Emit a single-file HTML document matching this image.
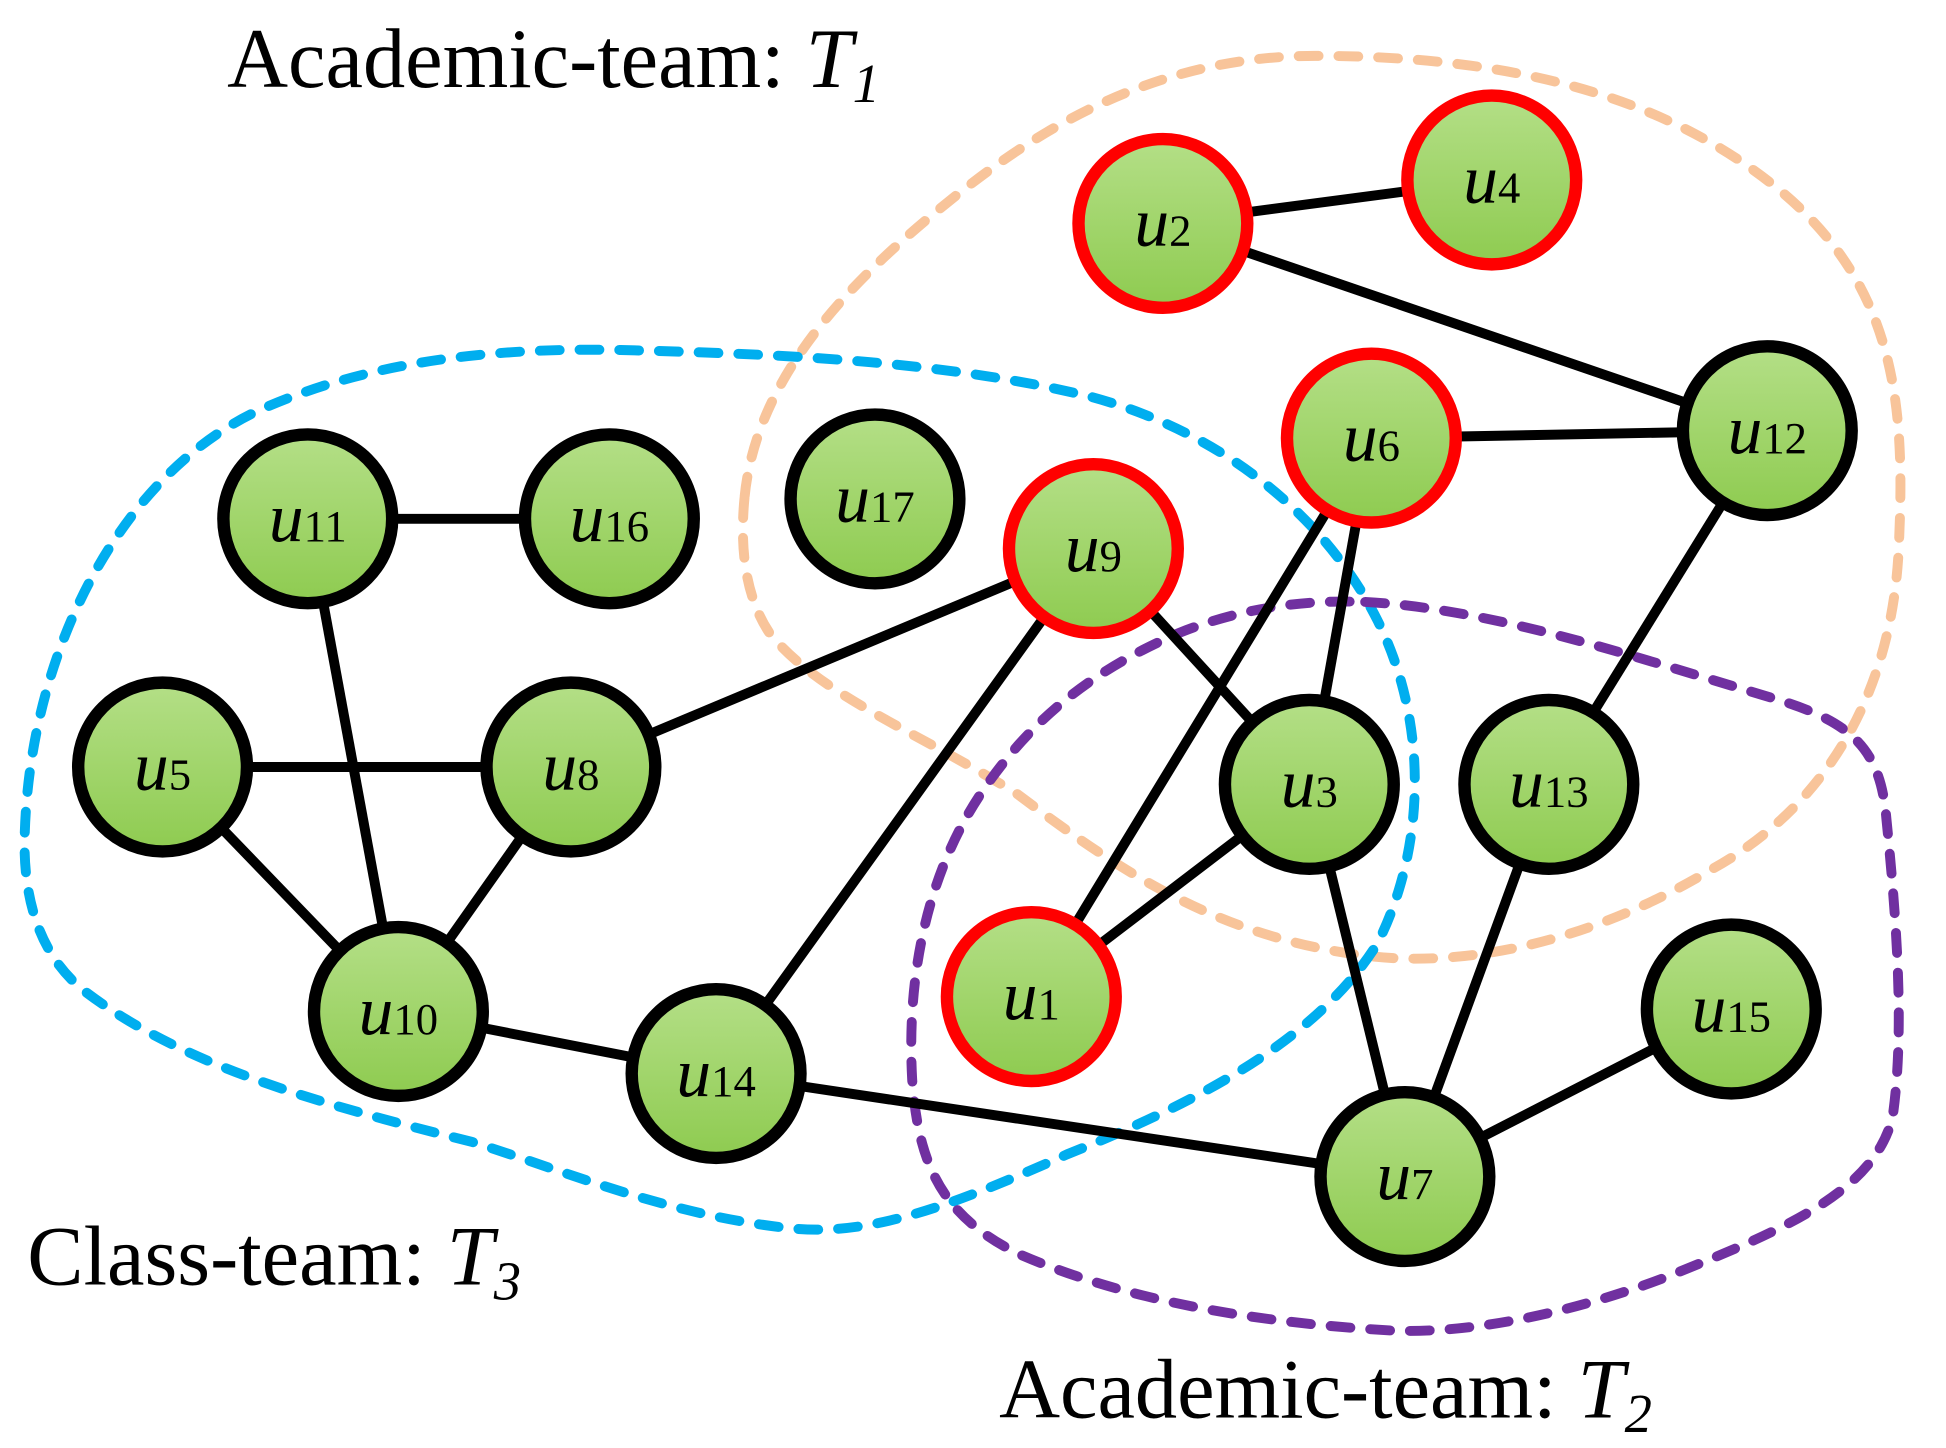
<!DOCTYPE html>
<html><head><meta charset="utf-8"><style>html,body{margin:0;padding:0;background:#fff}svg{display:block}</style></head>
<body>
<svg width="1946" height="1448" viewBox="0 0 1568 1166.7" xmlns="http://www.w3.org/2000/svg" font-family="Liberation Serif, serif">
<defs>
<linearGradient id="g" x1="0" y1="0" x2="0" y2="1"><stop offset="0" stop-color="#b4df87"/><stop offset="1" stop-color="#8ecb50"/></linearGradient>
</defs>
<g fill="none" stroke-width="8" stroke-linecap="round" stroke-dasharray="16 16">
<path stroke="#f8c49a" d="M600,400 C610,300 690,220 780,150 C870,80 960,45 1060,45 C1200,45 1330,70 1430,150 C1530,230 1535,330 1530,440 C1525,560 1470,650 1380,700 C1280,760 1180,780 1100,770 C980,755 900,700 820,640 C740,590 660,560 620,510 C600,480 596,440 600,400 Z"/>
<path stroke="#00aeef" d="M20,670 C25,520 100,380 210,330 C300,290 400,280 500,282 C620,285 760,290 880,320 C990,350 1070,420 1110,500 C1150,580 1150,680 1110,760 C1060,840 960,890 860,930 C760,975 700,995 640,990 C540,980 460,945 380,920 C260,890 150,860 70,800 C30,770 18,720 20,670 Z"/>
<path stroke="#7030a0" d="M1100,485 C1200,490 1320,530 1420,560 C1490,580 1515,600 1520,660 C1528,740 1535,830 1525,900 C1510,960 1440,990 1340,1030 C1260,1060 1180,1075 1120,1072 C1000,1065 900,1045 820,1010 C760,980 740,940 735,870 C730,780 750,700 790,640 C830,580 880,540 950,510 C1000,490 1050,483 1100,485 Z"/>
</g>
<g stroke="#000" stroke-width="8">
<line x1="937" y1="180" x2="1202" y2="145"/>
<line x1="937" y1="180" x2="1424" y2="347"/>
<line x1="1105" y1="353" x2="1424" y2="347"/>
<line x1="248" y1="418" x2="491" y2="418"/>
<line x1="248" y1="418" x2="321" y2="815"/>
<line x1="131" y1="618" x2="460" y2="618"/>
<line x1="131" y1="618" x2="321" y2="815"/>
<line x1="460" y1="618" x2="321" y2="815"/>
<line x1="460" y1="618" x2="881" y2="442"/>
<line x1="881" y1="442" x2="577" y2="865"/>
<line x1="881" y1="442" x2="1055" y2="632"/>
<line x1="1105" y1="353" x2="1055" y2="632"/>
<line x1="1105" y1="353" x2="831" y2="803"/>
<line x1="1055" y1="632" x2="831" y2="803"/>
<line x1="1424" y1="347" x2="1248" y2="632"/>
<line x1="1055" y1="632" x2="1132" y2="948"/>
<line x1="1248" y1="632" x2="1132" y2="948"/>
<line x1="1132" y1="948" x2="1395" y2="813"/>
<line x1="321" y1="815" x2="577" y2="865"/>
<line x1="577" y1="865" x2="1132" y2="948"/>
</g>
<g fill="url(#g)" stroke-width="10">
<circle cx="937" cy="180" r="68" stroke="#f00"/>
<circle cx="1202" cy="145" r="68" stroke="#f00"/>
<circle cx="1105" cy="353" r="68" stroke="#f00"/>
<circle cx="881" cy="442" r="68" stroke="#f00"/>
<circle cx="831" cy="803" r="68" stroke="#f00"/>
<circle cx="1424" cy="347" r="68" stroke="#000"/>
<circle cx="248" cy="418" r="68" stroke="#000"/>
<circle cx="491" cy="418" r="68" stroke="#000"/>
<circle cx="705" cy="402" r="68" stroke="#000"/>
<circle cx="131" cy="618" r="68" stroke="#000"/>
<circle cx="460" cy="618" r="68" stroke="#000"/>
<circle cx="1055" cy="632" r="68" stroke="#000"/>
<circle cx="1248" cy="632" r="68" stroke="#000"/>
<circle cx="321" cy="815" r="68" stroke="#000"/>
<circle cx="577" cy="865" r="68" stroke="#000"/>
<circle cx="1395" cy="813" r="68" stroke="#000"/>
<circle cx="1132" cy="948" r="68" stroke="#000"/>
</g>
<g font-size="56" text-anchor="middle" fill="#000">
<text x="937" y="198"><tspan font-style="italic">u</tspan><tspan font-size="36">2</tspan></text>
<text x="1202" y="163"><tspan font-style="italic">u</tspan><tspan font-size="36">4</tspan></text>
<text x="1105" y="371"><tspan font-style="italic">u</tspan><tspan font-size="36">6</tspan></text>
<text x="881" y="460"><tspan font-style="italic">u</tspan><tspan font-size="36">9</tspan></text>
<text x="831" y="821"><tspan font-style="italic">u</tspan><tspan font-size="36">1</tspan></text>
<text x="1424" y="365"><tspan font-style="italic">u</tspan><tspan font-size="36">12</tspan></text>
<text x="248" y="436"><tspan font-style="italic">u</tspan><tspan font-size="36">11</tspan></text>
<text x="491" y="436"><tspan font-style="italic">u</tspan><tspan font-size="36">16</tspan></text>
<text x="705" y="420"><tspan font-style="italic">u</tspan><tspan font-size="36">17</tspan></text>
<text x="131" y="636"><tspan font-style="italic">u</tspan><tspan font-size="36">5</tspan></text>
<text x="460" y="636"><tspan font-style="italic">u</tspan><tspan font-size="36">8</tspan></text>
<text x="1055" y="650"><tspan font-style="italic">u</tspan><tspan font-size="36">3</tspan></text>
<text x="1248" y="650"><tspan font-style="italic">u</tspan><tspan font-size="36">13</tspan></text>
<text x="321" y="833"><tspan font-style="italic">u</tspan><tspan font-size="36">10</tspan></text>
<text x="577" y="883"><tspan font-style="italic">u</tspan><tspan font-size="36">14</tspan></text>
<text x="1395" y="831"><tspan font-style="italic">u</tspan><tspan font-size="36">15</tspan></text>
<text x="1132" y="966"><tspan font-style="italic">u</tspan><tspan font-size="36">7</tspan></text>
</g>
<g font-size="68" fill="#000">
<text x="183" y="70">Academic-team: <tspan font-style="italic">T</tspan><tspan font-style="italic" font-size="44" dy="12">1</tspan></text>
<text x="22" y="1035">Class-team: <tspan font-style="italic">T</tspan><tspan font-style="italic" font-size="44" dy="12">3</tspan></text>
<text x="805" y="1142">Academic-team: <tspan font-style="italic">T</tspan><tspan font-style="italic" font-size="44" dy="12">2</tspan></text>
</g>
</svg>
</body></html>
